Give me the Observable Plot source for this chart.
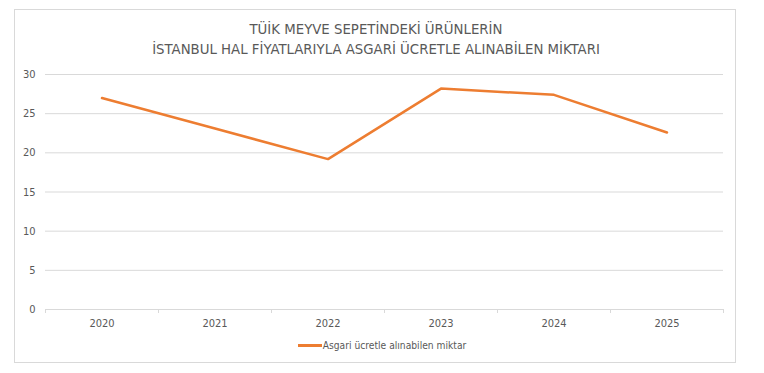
<!DOCTYPE html>
<html>
<head>
<meta charset="utf-8">
<script src="https://cdn.jsdelivr.net/npm/d3@7"></script>
<script src="https://cdn.jsdelivr.net/npm/@observablehq/plot@0.6"></script>
<style>
  html, body { margin: 0; padding: 0; background: #fff; }
  #wrap { position: relative; width: 764px; height: 373px; overflow: hidden; background: #fff; }
  #frame { position: absolute; left: 14px; top: 9px; width: 722px; height: 354px; border: 1px solid #d9d9d9; box-sizing: border-box; }
  #title { position: absolute; left: 0; width: 752px; top: 19px; text-align: center;
    font-family: "DejaVu Sans Condensed", sans-serif; font-size: 14.8px; line-height: 19.5px; color: #595959; }
  #chart { position: absolute; left: 0; top: 0; }
  #legend { position: absolute; left: 0; width: 764px; top: 340px; text-align: center;
    font-family: "DejaVu Sans Condensed", sans-serif; font-size: 10.2px; color: #595959; }
  #legend .sw { display: inline-block; width: 24px; height: 3px; background: #ED7D31; vertical-align: middle; margin-right: 1px; position: relative; top: -1px; }
</style>
</head>
<body>
<div id="wrap">
  <div id="frame"></div>
  <div id="title">TÜİK MEYVE SEPETİNDEKİ ÜRÜNLERİN<br>İSTANBUL HAL FİYATLARIYLA ASGARİ ÜCRETLE ALINABİLEN MİKTARI</div>
  <div id="chart"></div>
  <div id="legend"><span class="sw"></span>Asgari ücretle alınabilen miktar</div>
</div>
<script>
const years = [2020, 2021, 2022, 2023, 2024, 2025];
const values = [27.0, 23.1, 19.2, 28.2, 27.4, 22.6];
const yTicks = [0, 5, 10, 15, 20, 25, 30];
const seriesName = "Asgari ücretle alınabilen miktar";

const data = years.map((y, i) => ({year: y, value: values[i]}));
const boundaries = [years[0] - 0.5, ...years.map(y => y + 0.5)];

const chart = Plot.plot({
  width: 764,
  height: 335,
  marginLeft: 45,
  marginRight: 41,
  marginTop: 74,
  marginBottom: 26,
  style: {fontFamily: "'DejaVu Sans Condensed', sans-serif", fontSize: "11px", color: "#595959", background: "transparent"},
  x: {domain: [years[0] - 0.5, years[years.length - 1] + 0.5], axis: null},
  y: {domain: [0, 30], axis: null},
  marks: [
    Plot.gridY(yTicks, {stroke: "#d9d9d9", strokeOpacity: 1, strokeWidth: 1}),
    Plot.axisY(yTicks, {tickSize: 0, tickPadding: 10, fill: "#595959", label: null, tickFormat: d => String(d)}),
    Plot.axisX(boundaries, {tickSize: 4, tickFormat: () => "", stroke: "#d9d9d9", label: null}),
    Plot.axisX(years, {tickSize: 0, tickPadding: 10, tickFormat: d => String(d), fill: "#595959", label: null}),
    Plot.lineY(data, {x: "year", y: "value", stroke: "#ED7D31", strokeWidth: 2.5, strokeLinecap: "round", strokeLinejoin: "round"})
  ]
});
document.getElementById("chart").appendChild(chart);
</script>
</body>
</html>
